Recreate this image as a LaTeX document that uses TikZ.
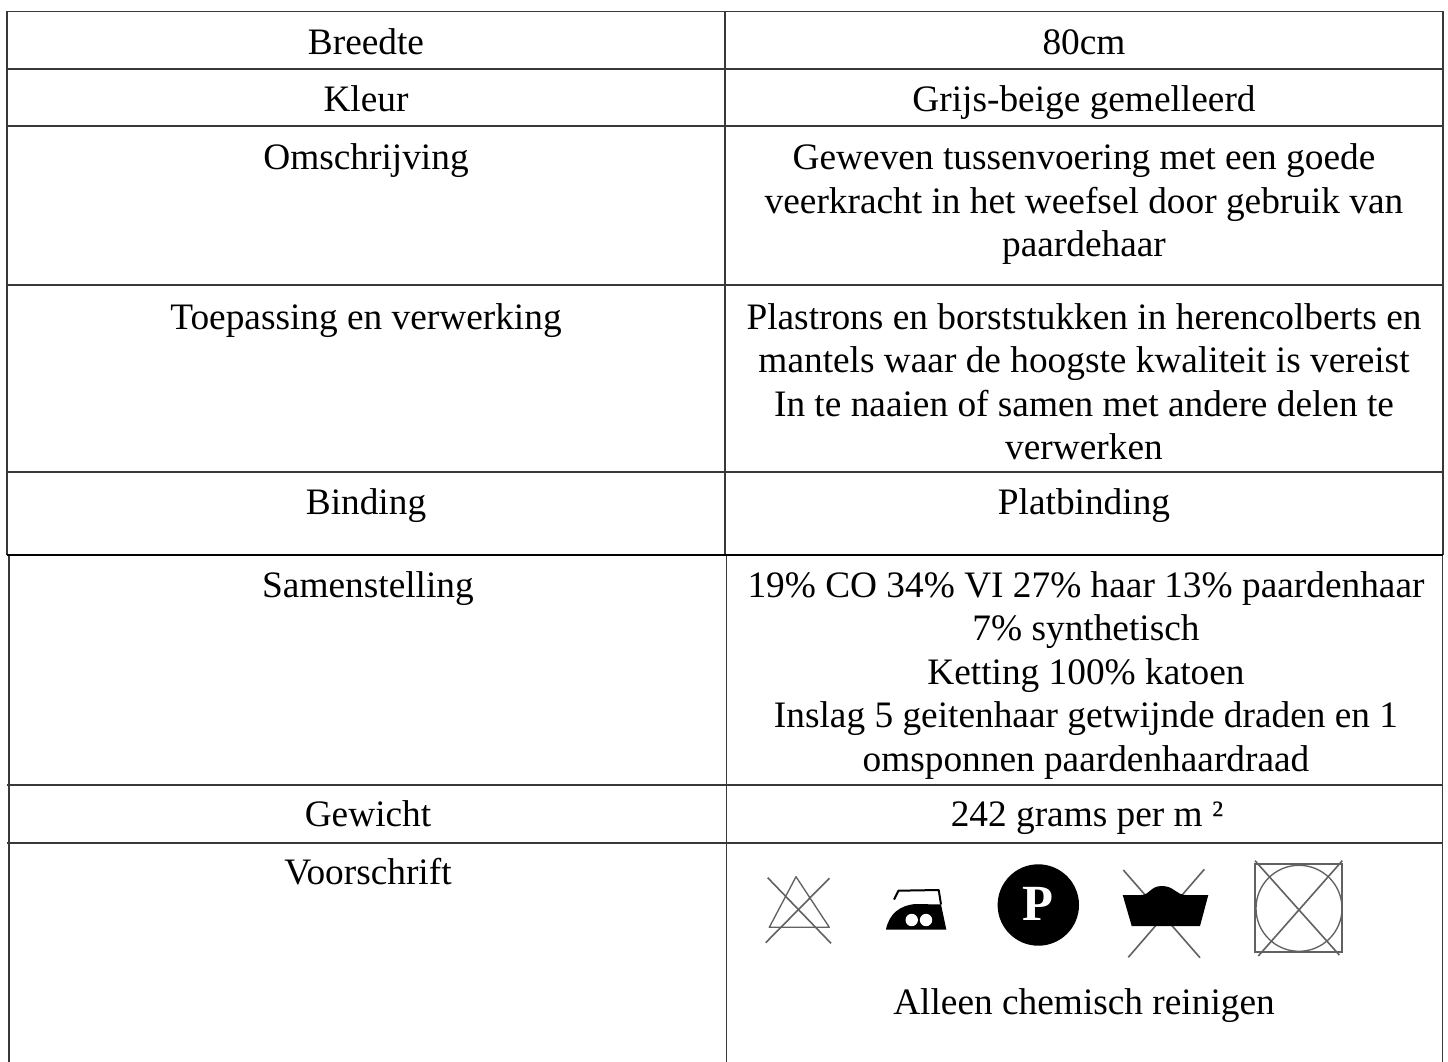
\documentclass[tikz,border=0pt]{standalone}
\usepackage{fontspec}
\setmainfont{Liberation Serif}
\tikzset{
  rule/.style={draw=black!78,line width=1.2pt},
  ruleblack/.style={draw=black,line width=1.2pt},
  cell/.style={anchor=north,inner sep=0pt,outer sep=0pt,align=center,text=black,
    font=\fontsize{28}{32.6}\selectfont},
  thinicon/.style={draw=black!62,line width=1.0pt},
  crossline/.style={draw=black!62,line width=1.2pt},
}
\newcommand{\lstrut}{\rule{0pt}{26pt}}
\begin{document}
\begin{tikzpicture}[x=0.75pt,y=-0.75pt]
\useasboundingbox (0,0) rectangle (1448,1062);
\fill[white] (0,0) rectangle (1448,1062);
% rules
\draw[rule] (6.8,555) -- (6.8,11.5) -- (1443,11.5) -- (1443,555);
\draw[rule] (725,11.5) -- (725,555);
\draw[rule] (8.8,555) -- (8.8,1062);
\draw[rule] (726.3,555) -- (726.3,1062);
\draw[rule] (1442.4,555) -- (1442.4,1062);
\foreach \yy in {69,126,285,472,785,843} \draw[rule] (7,\yy) -- (1443,\yy);
\draw[ruleblack] (6.8,555) -- (1443,555);
% left column
\node[cell] (l1) at (366,19.5) {\lstrut Breedte};
\node[cell] (l2) at (366,76.5) {\lstrut Kleur};
\node[cell] (l3) at (366,135) {\lstrut Omschrijving};
\node[cell] (l4) at (366,294.5) {\lstrut Toepassing en verwerking};
\node[cell] (l5) at (366,479.5) {\lstrut Binding};
\node[cell] (l6) at (368,562.5) {\lstrut Samenstelling};
\node[cell] (l7) at (368,791.5) {\lstrut Gewicht};
\node[cell] (l8) at (368,850) {\lstrut Voorschrift};
% right column
\node[cell] (r1) at (1084,19.5) {\lstrut 80cm};
\node[cell] (r2) at (1084,76.5) {\lstrut Grijs-beige gemelleerd};
\node[cell] (r3) at (1084,135) {\lstrut Geweven tussenvoering met een goede\\veerkracht in het weefsel door gebruik van\\paardehaar};
\node[cell] (r4) at (1084,294.5) {\lstrut Plastrons en borststukken in herencolberts en\\mantels waar de hoogste kwaliteit is vereist\\In te naaien of samen met andere delen te\\verwerken};
\node[cell] (r5) at (1084,479.5) {\lstrut Platbinding};
\node[cell] (r6) at (1086,562.5) {\lstrut 19\% CO 34\% VI 27\% haar 13\% paardenhaar\\7\% synthetisch\\Ketting 100\% katoen\\Inslag 5 geitenhaar getwijnde draden en 1\\omsponnen paardenhaardraad};
\node[cell] (r7) at (1087,791.5) {\lstrut 242 grams per m ²};
\node[cell] (r8) at (1084,980) {\lstrut Alleen chemisch reinigen};
% no bleach
\draw[thinicon,line join=round] (796,876.7) -- (829.3,927.3) -- (769.3,927.3) -- cycle;
\draw[crossline] (767.7,877.7) -- (831,943.3);
\draw[crossline] (829.3,878.3) -- (765.7,942.7);
% iron
\fill[black] (886,929.5) .. controls (889,914) and (900,905) .. (916,904) -- (941,904.5) -- (946.3,929.5) -- cycle;
\draw[black,line width=1.5pt,line join=round] (894,899.5) -- (898.5,890.7) -- (938.7,890) -- (941,904.5);
\fill[white] (911.7,920) circle [radius=6.2];
\fill[white] (926,920) circle [radius=6.2];
% P circle
\fill[black] (1038.3,905) circle [radius=40.7];
\node[inner sep=0pt,text=white,font=\fontsize{38}{38}\selectfont\bfseries] (pmark) at (1038.3,904) {P};
% no wash
\draw[crossline] (1123.3,870) -- (1200,957.7);
\draw[crossline] (1204.3,869.3) -- (1128.3,957.3);
\fill[black] (1122.7,895) -- (1141,895) .. controls (1150,895) and (1150,886) .. (1162,886)
  .. controls (1174,886) and (1176,895) .. (1186,895) -- (1208.3,895) -- (1200,926) -- (1131.7,926) -- cycle;
% no tumble dry
\draw[draw=black!62,line width=1.5pt] (1255,864) rectangle (1342.3,952.3);
\draw[thinicon] (1299,908.3) circle [radius=43];
\draw[crossline] (1255,860.7) -- (1339.3,955);
\draw[crossline] (1342.3,860.7) -- (1258.3,956);
\end{tikzpicture}
\end{document}
